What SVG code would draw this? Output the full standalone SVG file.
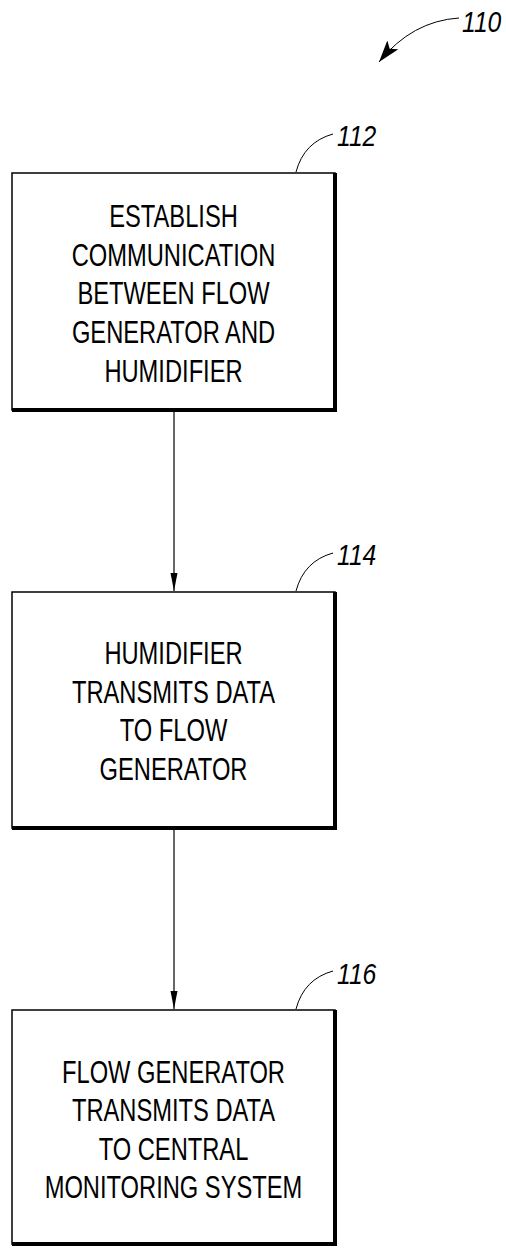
<svg xmlns="http://www.w3.org/2000/svg" width="506" height="1248" viewBox="0 0 506 1248">
<style>
.box{fill:#fff;stroke:#000;stroke-width:1.5}
.sh{fill:none;stroke:#000;stroke-width:4;stroke-linecap:square}
.t{font-family:"Liberation Sans",Arial,sans-serif;font-size:31px;fill:#000;text-anchor:middle}
.lbl{font-family:"Liberation Sans",Arial,sans-serif;font-size:29px;font-style:italic;fill:#000}
.lead{fill:none;stroke:#000;stroke-width:1}
.conn{stroke:#000;stroke-width:1.2;fill:none}
</style>
<defs>
<marker id="ah" markerWidth="20" markerHeight="8" refX="18" refY="4" orient="auto" markerUnits="userSpaceOnUse">
<path d="M0,0.5 L18,4 L0,7.5 Z" fill="#000"/>
</marker>
<marker id="ah2" markerWidth="24" markerHeight="14" refX="22" refY="7" orient="auto" markerUnits="userSpaceOnUse">
<path d="M0,0 L22,7 L0,14 L5,7 Z" fill="#000"/>
</marker>
</defs>
<g id="ref110">
<path class="lead" d="M459,18 Q412,21 379,62" marker-end="url(#ah2)" stroke-width="1.2"/>
<text class="lbl" transform="translate(462,32) scale(0.85,1)">110</text>
</g>
<g id="n112">
<rect class="box" x="12" y="173" width="323" height="237"/>
<path class="sh" d="M335,175 L335,410 L14,410"/>
<path class="lead" d="M296,172 Q304,142 333,134"/>
<text class="lbl" transform="translate(337,146) scale(0.85,1)">112</text>
<g transform="translate(173.5,0) scale(0.765,1)">
<text class="t" x="0" y="227">ESTABLISH</text>
<text class="t" x="0" y="266">COMMUNICATION</text>
<text class="t" x="0" y="304">BETWEEN FLOW</text>
<text class="t" x="0" y="343">GENERATOR AND</text>
<text class="t" x="0" y="382">HUMIDIFIER</text>
</g>
</g>
<g id="n114">
<rect class="box" x="12" y="592" width="323" height="236"/>
<path class="sh" d="M335,594 L335,828 L14,828"/>
<path class="lead" d="M296,591 Q304,561 333,553"/>
<text class="lbl" transform="translate(337,565) scale(0.85,1)">114</text>
<g transform="translate(173.5,0) scale(0.765,1)">
<text class="t" x="0" y="664">HUMIDIFIER</text>
<text class="t" x="0" y="703">TRANSMITS DATA</text>
<text class="t" x="0" y="741">TO FLOW</text>
<text class="t" x="0" y="780">GENERATOR</text>
</g>
</g>
<g id="n116">
<rect class="box" x="12" y="1010" width="323" height="234"/>
<path class="sh" d="M335,1012 L335,1244 L14,1244"/>
<path class="lead" d="M296,1009 Q304,979 333,971"/>
<text class="lbl" transform="translate(337,984) scale(0.85,1)">116</text>
<g transform="translate(173.5,0) scale(0.765,1)">
<text class="t" x="0" y="1083">FLOW GENERATOR</text>
<text class="t" x="0" y="1121">TRANSMITS DATA</text>
<text class="t" x="0" y="1160">TO CENTRAL</text>
<text class="t" x="0" y="1198">MONITORING SYSTEM</text>
</g>
</g>
<g id="connectors">
<line class="conn" x1="174" y1="412" x2="174" y2="591" marker-end="url(#ah)"/>
<line class="conn" x1="174" y1="830" x2="174" y2="1009" marker-end="url(#ah)"/>
</g>
</svg>
